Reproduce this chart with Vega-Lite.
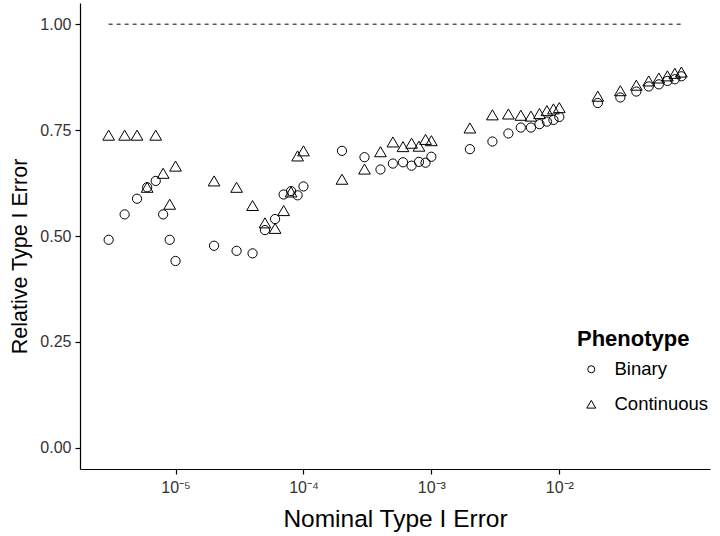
{
  "$schema": "https://vega.github.io/schema/vega-lite/v6.json",
  "width": 630,
  "height": 466,
  "autosize": {"type": "none"},
  "padding": {"left": 80, "top": 3, "right": 10, "bottom": 67},
  "background": "white",
  "config": {
    "view": {"stroke": null},
    "font": "Liberation Sans",
    "axis": {
      "grid": false,
      "domainColor": "black",
      "domainWidth": 1.2,
      "tickColor": "black",
      "tickWidth": 1.2,
      "tickSize": 5,
      "labelColor": "#333333",
      "labelFont": "Liberation Sans",
      "labelFontSize": 16,
      "titleFont": "Liberation Sans",
      "titleFontWeight": "normal",
      "titleColor": "black"
    }
  },
  "datasets": {
    "pts": [
      {"x": 3e-6, "y": 0.491, "Phenotype": "Binary"},
      {"x": 4e-6, "y": 0.551, "Phenotype": "Binary"},
      {"x": 5e-6, "y": 0.588, "Phenotype": "Binary"},
      {"x": 6e-6, "y": 0.615, "Phenotype": "Binary"},
      {"x": 7e-6, "y": 0.630, "Phenotype": "Binary"},
      {"x": 8e-6, "y": 0.551, "Phenotype": "Binary"},
      {"x": 9e-6, "y": 0.491, "Phenotype": "Binary"},
      {"x": 1e-5, "y": 0.441, "Phenotype": "Binary"},
      {"x": 2e-5, "y": 0.477, "Phenotype": "Binary"},
      {"x": 3e-5, "y": 0.465, "Phenotype": "Binary"},
      {"x": 4e-5, "y": 0.459, "Phenotype": "Binary"},
      {"x": 5e-5, "y": 0.514, "Phenotype": "Binary"},
      {"x": 6e-5, "y": 0.540, "Phenotype": "Binary"},
      {"x": 7e-5, "y": 0.598, "Phenotype": "Binary"},
      {"x": 8e-5, "y": 0.606, "Phenotype": "Binary"},
      {"x": 9e-5, "y": 0.596, "Phenotype": "Binary"},
      {"x": 1e-4, "y": 0.617, "Phenotype": "Binary"},
      {"x": 2e-4, "y": 0.701, "Phenotype": "Binary"},
      {"x": 3e-4, "y": 0.686, "Phenotype": "Binary"},
      {"x": 4e-4, "y": 0.657, "Phenotype": "Binary"},
      {"x": 5e-4, "y": 0.671, "Phenotype": "Binary"},
      {"x": 6e-4, "y": 0.674, "Phenotype": "Binary"},
      {"x": 7e-4, "y": 0.666, "Phenotype": "Binary"},
      {"x": 8e-4, "y": 0.675, "Phenotype": "Binary"},
      {"x": 9e-4, "y": 0.673, "Phenotype": "Binary"},
      {"x": 1e-3, "y": 0.687, "Phenotype": "Binary"},
      {"x": 2e-3, "y": 0.705, "Phenotype": "Binary"},
      {"x": 3e-3, "y": 0.723, "Phenotype": "Binary"},
      {"x": 4e-3, "y": 0.742, "Phenotype": "Binary"},
      {"x": 5e-3, "y": 0.756, "Phenotype": "Binary"},
      {"x": 6e-3, "y": 0.756, "Phenotype": "Binary"},
      {"x": 7e-3, "y": 0.764, "Phenotype": "Binary"},
      {"x": 8e-3, "y": 0.770, "Phenotype": "Binary"},
      {"x": 9e-3, "y": 0.774, "Phenotype": "Binary"},
      {"x": 1e-2, "y": 0.781, "Phenotype": "Binary"},
      {"x": 2e-2, "y": 0.814, "Phenotype": "Binary"},
      {"x": 3e-2, "y": 0.827, "Phenotype": "Binary"},
      {"x": 4e-2, "y": 0.841, "Phenotype": "Binary"},
      {"x": 5e-2, "y": 0.853, "Phenotype": "Binary"},
      {"x": 6e-2, "y": 0.858, "Phenotype": "Binary"},
      {"x": 7e-2, "y": 0.866, "Phenotype": "Binary"},
      {"x": 8e-2, "y": 0.870, "Phenotype": "Binary"},
      {"x": 9e-2, "y": 0.877, "Phenotype": "Binary"},
      {"x": 3e-6, "y": 0.738, "Phenotype": "Continuous"},
      {"x": 4e-6, "y": 0.738, "Phenotype": "Continuous"},
      {"x": 5e-6, "y": 0.738, "Phenotype": "Continuous"},
      {"x": 6e-6, "y": 0.615, "Phenotype": "Continuous"},
      {"x": 7e-6, "y": 0.738, "Phenotype": "Continuous"},
      {"x": 8e-6, "y": 0.648, "Phenotype": "Continuous"},
      {"x": 9e-6, "y": 0.575, "Phenotype": "Continuous"},
      {"x": 1e-5, "y": 0.665, "Phenotype": "Continuous"},
      {"x": 2e-5, "y": 0.630, "Phenotype": "Continuous"},
      {"x": 3e-5, "y": 0.615, "Phenotype": "Continuous"},
      {"x": 4e-5, "y": 0.572, "Phenotype": "Continuous"},
      {"x": 5e-5, "y": 0.531, "Phenotype": "Continuous"},
      {"x": 6e-5, "y": 0.518, "Phenotype": "Continuous"},
      {"x": 7e-5, "y": 0.560, "Phenotype": "Continuous"},
      {"x": 8e-5, "y": 0.604, "Phenotype": "Continuous"},
      {"x": 9e-5, "y": 0.689, "Phenotype": "Continuous"},
      {"x": 1e-4, "y": 0.701, "Phenotype": "Continuous"},
      {"x": 2e-4, "y": 0.634, "Phenotype": "Continuous"},
      {"x": 3e-4, "y": 0.658, "Phenotype": "Continuous"},
      {"x": 4e-4, "y": 0.699, "Phenotype": "Continuous"},
      {"x": 5e-4, "y": 0.722, "Phenotype": "Continuous"},
      {"x": 6e-4, "y": 0.711, "Phenotype": "Continuous"},
      {"x": 7e-4, "y": 0.719, "Phenotype": "Continuous"},
      {"x": 8e-4, "y": 0.712, "Phenotype": "Continuous"},
      {"x": 9e-4, "y": 0.728, "Phenotype": "Continuous"},
      {"x": 1e-3, "y": 0.725, "Phenotype": "Continuous"},
      {"x": 2e-3, "y": 0.755, "Phenotype": "Continuous"},
      {"x": 3e-3, "y": 0.786, "Phenotype": "Continuous"},
      {"x": 4e-3, "y": 0.788, "Phenotype": "Continuous"},
      {"x": 5e-3, "y": 0.785, "Phenotype": "Continuous"},
      {"x": 6e-3, "y": 0.783, "Phenotype": "Continuous"},
      {"x": 7e-3, "y": 0.789, "Phenotype": "Continuous"},
      {"x": 8e-3, "y": 0.796, "Phenotype": "Continuous"},
      {"x": 9e-3, "y": 0.800, "Phenotype": "Continuous"},
      {"x": 1e-2, "y": 0.803, "Phenotype": "Continuous"},
      {"x": 2e-2, "y": 0.830, "Phenotype": "Continuous"},
      {"x": 3e-2, "y": 0.843, "Phenotype": "Continuous"},
      {"x": 4e-2, "y": 0.856, "Phenotype": "Continuous"},
      {"x": 5e-2, "y": 0.866, "Phenotype": "Continuous"},
      {"x": 6e-2, "y": 0.873, "Phenotype": "Continuous"},
      {"x": 7e-2, "y": 0.878, "Phenotype": "Continuous"},
      {"x": 8e-2, "y": 0.884, "Phenotype": "Continuous"},
      {"x": 9e-2, "y": 0.887, "Phenotype": "Continuous"}
    ],
    "ref": [{"x": 3e-6, "x2": 0.09, "y": 1}]
  },
  "layer": [
    {
      "data": {"name": "ref"},
      "mark": {"type": "rule", "color": "black", "strokeWidth": 1, "strokeDash": [4, 4]},
      "encoding": {
        "x": {"field": "x", "type": "quantitative", "scale": {"type": "log", "domain": [1.791e-6, 0.1507], "nice": false}},
        "x2": {"field": "x2"},
        "y": {"field": "y", "type": "quantitative", "scale": {"domain": [-0.05, 1.05], "nice": false, "zero": false}}
      }
    },
    {
      "data": {"name": "pts"},
      "mark": {"type": "point", "filled": false, "stroke": "black", "strokeWidth": 1, "size": 85, "opacity": 1},
      "encoding": {
        "x": {
          "field": "x", "type": "quantitative",
          "scale": {"type": "log", "domain": [1.791e-6, 0.1507], "nice": false},
          "axis": {
            "title": "Nominal Type I Error",
            "titleFontSize": 24.5,
            "values": [1e-5, 1e-4, 1e-3, 1e-2],
            "labelExpr": "datum.value < 5e-5 ? '10⁻⁵' : datum.value < 5e-4 ? '10⁻⁴' : datum.value < 5e-3 ? '10⁻³' : '10⁻²'",
            "labelPadding": 5,
            "titlePadding": 12
          }
        },
        "y": {
          "field": "y", "type": "quantitative",
          "scale": {"domain": [-0.05, 1.05], "nice": false, "zero": false},
          "axis": {
            "title": "Relative Type I Error",
            "titleFontSize": 21.5,
            "values": [0, 0.25, 0.5, 0.75, 1],
            "format": ".2f",
            "labelPadding": 4,
            "titlePadding": 8,
            "titleY": 253
          }
        },
        "shape": {
          "field": "Phenotype", "type": "nominal",
          "scale": {"domain": ["Binary", "Continuous"], "range": ["circle", "M0,-1.09L1.27,1.09L-1.27,1.09Z"]},
          "legend": {
            "orient": "none",
            "legendX": 497,
            "legendY": 326,
            "title": "Phenotype",
            "titleFont": "Liberation Sans",
            "titleFontSize": 22,
            "titleFontWeight": "bold",
            "titleColor": "black",
            "titlePadding": 9,
            "labelFont": "Liberation Sans",
            "labelFontSize": 18.5,
            "labelColor": "black",
            "labelOffset": 14,
            "symbolOffset": 5,
            "symbolSize": 50,
            "symbolStrokeColor": "black",
            "symbolStrokeWidth": 1,
            "rowPadding": 16
          }
        }
      }
    }
  ]
}
